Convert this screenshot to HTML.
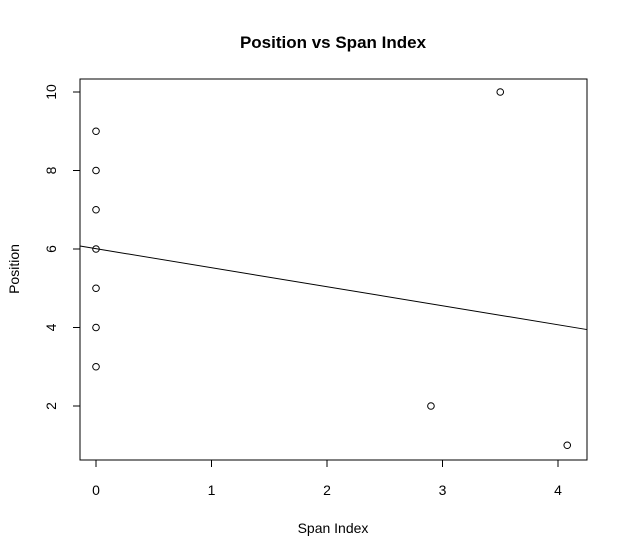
<!DOCTYPE html>
<html><head><meta charset="utf-8"><style>
body{margin:0;background:#fff}
svg{display:block;font-family:"Liberation Sans",Arial,sans-serif}
</style></head><body>
<svg id="c" width="628" height="558">
<text x="333" y="48" text-anchor="middle" font-size="17" font-weight="bold">Position vs Span Index</text>
<text x="333" y="533" text-anchor="middle" font-size="14">Span Index</text>
<text transform="translate(19,269) rotate(-90)" text-anchor="middle" font-size="14">Position</text>
<rect x="80" y="79" width="507" height="381" fill="none" stroke="#000"/>
<g id="g"></g>
</svg>
<script>
const xVals=[0,0,0,0,0,0,0,2.9,3.5,4.08];
const yVals=[3,4,5,6,7,8,9,2,10,1];
const xTicks=[0,1,2,3,4];
const yTicks=[2,4,6,8,10];
const sx=v=>96+v*115.5;
const sy=v=>92+(10-v)*39.25;
const NS="http://www.w3.org/2000/svg";
const g=document.getElementById('g');
function mk(t,a){const e=document.createElementNS(NS,t);for(const k in a)e.setAttribute(k,a[k]);g.appendChild(e);return e;}
// x axis
let e=mk('line',{x1:sx(xTicks[0]),x2:sx(xTicks[xTicks.length-1]),y1:460,y2:460,stroke:'#000'});


xTicks.forEach(t=>{
 let l=mk('line',{x1:sx(t),x2:sx(t),y1:460,y2:467,stroke:'#000'});
 
 
 let tx=mk('text',{x:sx(t),y:495,'text-anchor':'middle','font-size':14});
 tx.textContent=t;
 
 
});
e=mk('line',{x1:80,x2:80,y1:sy(yTicks[0]),y2:sy(yTicks[yTicks.length-1]),stroke:'#000'});


yTicks.forEach(t=>{
 let l=mk('line',{x1:73,x2:80,y1:sy(t),y2:sy(t),stroke:'#000'});
 
 
 let tx=mk('text',{transform:`translate(56,${sy(t)}) rotate(-90)`,'text-anchor':'middle','font-size':14});
 tx.textContent=t;
 
 
});
// regression
const n=xVals.length,mx=xVals.reduce((a,b)=>a+b)/n,my=yVals.reduce((a,b)=>a+b)/n;
let sxx=0,sxy=0;xVals.forEach((x,i)=>{sxx+=(x-mx)**2;sxy+=(x-mx)*(yVals[i]-my);});
const b=sxy/sxx,a=my-b*mx;
const x0=(80-96)/115.5,x1=(587-96)/115.5;
e=mk('line',{x1:80,x2:587,y1:sy(a+b*x0),y2:sy(a+b*x1),stroke:'#000'});


xVals.forEach((x,i)=>{
 let c=mk('circle',{cx:sx(x),cy:sy(yVals[i]),r:3.3,fill:'none',stroke:'#000'});
 
 
});
</script>
</body></html>
